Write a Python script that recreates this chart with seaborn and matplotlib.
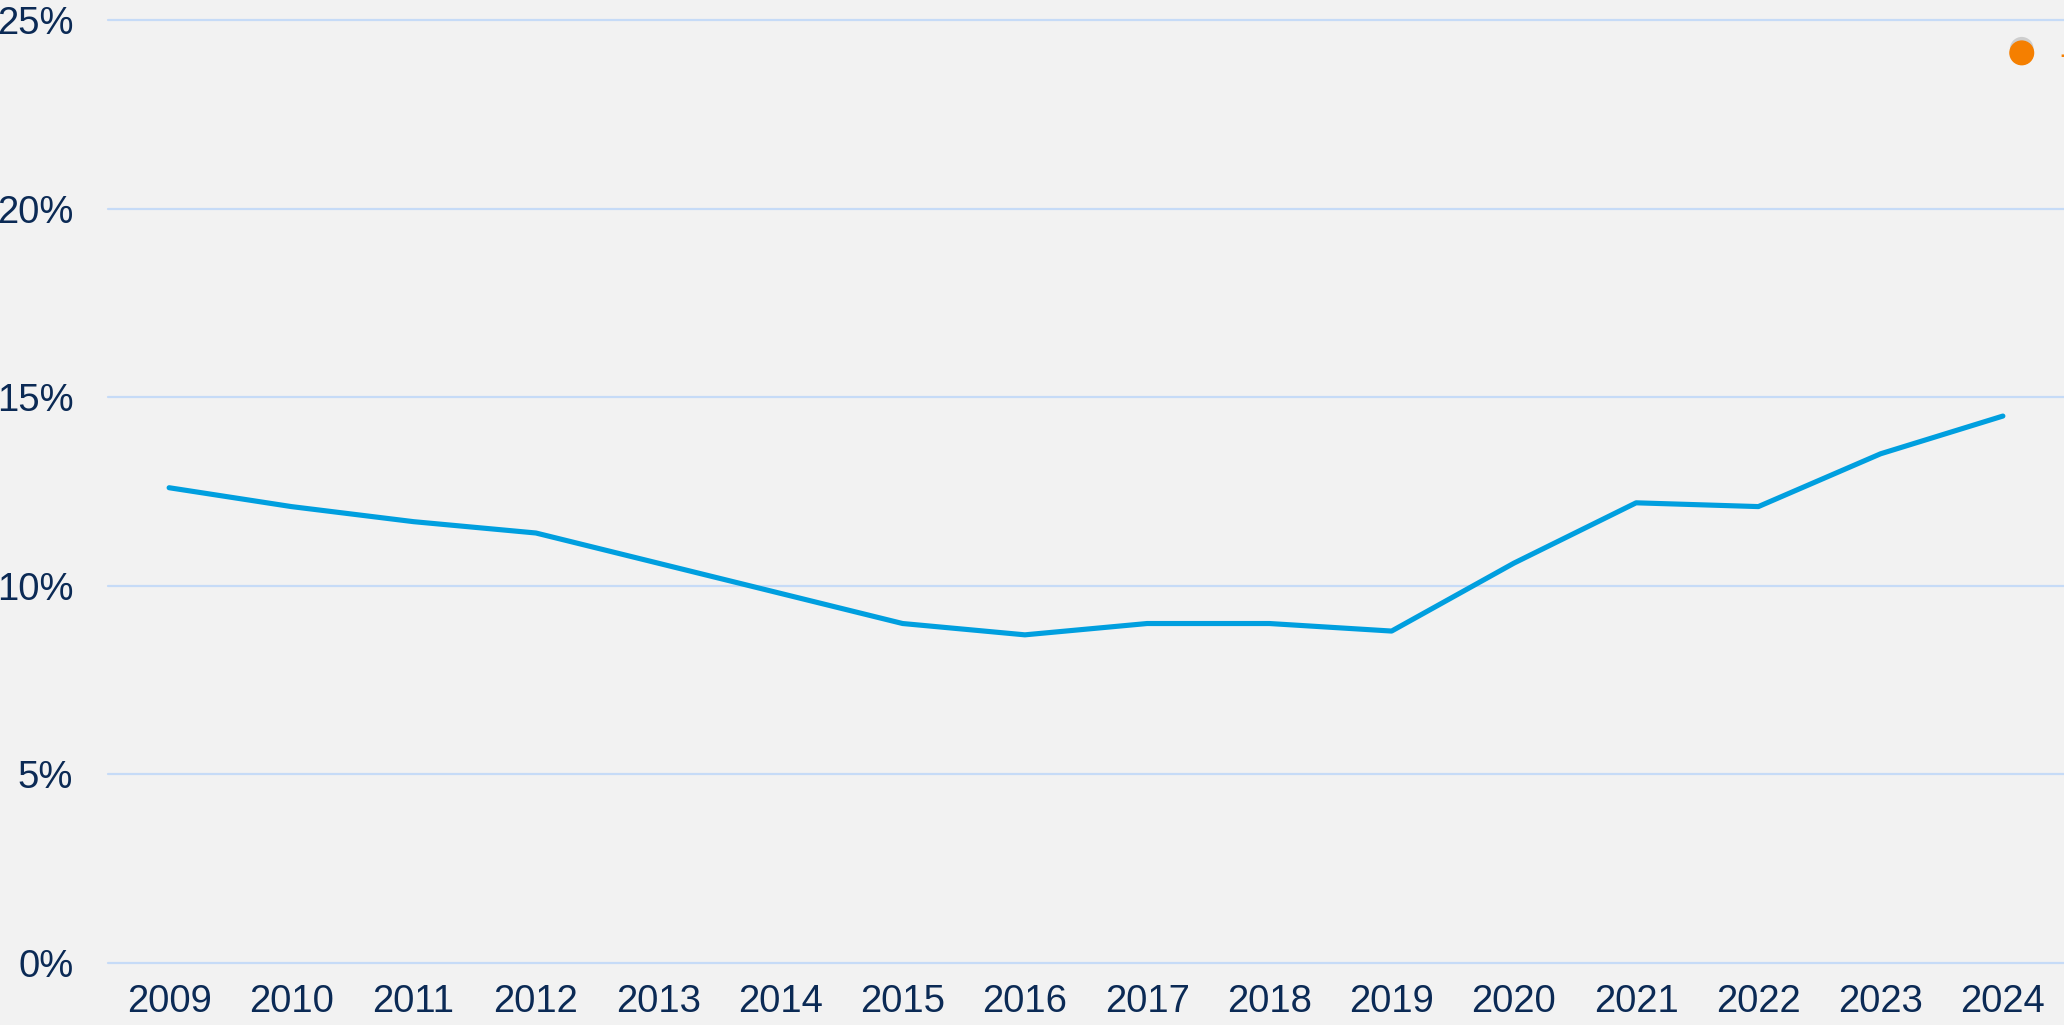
import pandas as pd
import seaborn as sns
import matplotlib.pyplot as plt
from matplotlib.lines import Line2D
from matplotlib import patheffects as pe

# Datos
years = [2009, 2010, 2011, 2012, 2013, 2014, 2015, 2016,
         2017, 2018, 2019, 2020, 2021, 2022, 2023, 2024]
values = [12.6, 12.1, 11.7, 11.4, 10.6, 9.8, 9.0, 8.7,
          9.0, 9.0, 8.8, 10.6, 12.2, 12.1, 13.5, 14.5]
y_ticks = [0, 5, 10, 15, 20, 25]
y_labels = ["0%", "5%", "10%", "15%", "20%", "25%"]

df = pd.DataFrame({"year": years, "value": values})

sns.set_theme(style="white")
plt.rcParams["font.family"] = ["Liberation Sans", "DejaVu Sans"]

bg = "#F2F2F2"
text_col = "#0B2A55"

fig = plt.figure(figsize=(20.64, 10.25), dpi=100, facecolor=bg)
ax = fig.add_axes([108 / 2064, 1 - 963 / 1025, 1 - 108 / 2064, (963 - 20) / 1025])
ax.set_facecolor(bg)

sns.lineplot(data=df, x="year", y="value", ax=ax, color="#009FDF",
             linewidth=3.7, solid_capstyle="round", zorder=3)

ax.set_xlim(2008.5, 2024.5)
ax.set_ylim(0, 25)
ax.set_xticks(years)
ax.set_xticklabels([str(y) for y in years])
ax.set_yticks(y_ticks)
ax.set_yticklabels(y_labels)
ax.tick_params(axis="both", length=0, labelsize=27.5, colors=text_col)
ax.tick_params(axis="y", pad=25)
ax.tick_params(axis="x", pad=15)
ax.grid(axis="y", color="#C6DBF7", linewidth=1.6)
ax.grid(axis="x", visible=False)
ax.set_xlabel("")
ax.set_ylabel("")
for s in ax.spines.values():
    s.set_visible(False)
for gl in ax.get_ygridlines():
    gl.set_clip_on(False)

# leyenda (cortada en el borde derecho, como en el original)
handle = Line2D([], [], linestyle="none", marker="o", markersize=17,
                markerfacecolor="#F57F00", markeredgecolor="#F57F00")
handle.set_path_effects([pe.SimplePatchShadow(offset=(0, 3), shadow_rgbFace="#999999", alpha=0.4),
                         pe.Normal()])
leg = fig.legend(handles=[handle], labels=["-"], loc="center left",
                 bbox_to_anchor=(2003 / 2064, 1 - 56 / 1025), frameon=False,
                 fontsize=27, borderaxespad=0, borderpad=0,
                 handlelength=1, handletextpad=0.5, labelcolor="#F57F00")

fig.savefig("out.png", dpi=100, facecolor=bg)
